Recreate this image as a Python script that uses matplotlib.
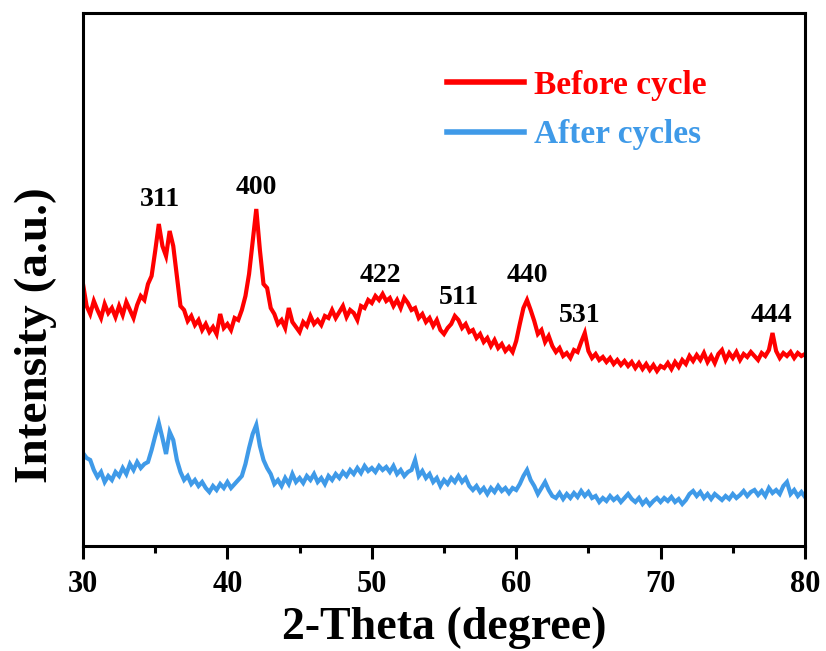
import numpy as np
import matplotlib
matplotlib.use("Agg")
import matplotlib.pyplot as plt
from matplotlib.lines import Line2D
from matplotlib.ticker import MultipleLocator

plt.rcParams['font.family'] = ['Liberation Serif', 'DejaVu Serif']
plt.rcParams['font.weight'] = 'bold'

# 2-theta grid, 0.25 degree steps from 30 to 80
two_theta = np.arange(30.0, 80.001, 0.25)

# intensities (arbitrary units)
before_cycle = [
    262, 240, 232, 245, 236, 228, 242, 233, 238, 229,
    240, 231, 244, 236, 228, 241, 250, 246, 262, 270,
    295, 322, 300, 290, 315, 300, 270, 240, 236, 225,
    230, 221, 226, 216, 222, 214, 219, 212, 232, 218,
    222, 216, 228, 226, 236, 250, 272, 305, 337, 296,
    262, 258, 238, 232, 222, 226, 218, 238, 224, 219,
    214, 224, 220, 230, 222, 226, 221, 230, 228, 236,
    228, 234, 240, 229, 236, 233, 226, 240, 238, 246,
    243, 250, 246, 252, 245, 248, 240, 246, 238, 248,
    243, 236, 238, 228, 232, 224, 228, 220, 226, 216,
    212, 218, 222, 230, 226, 218, 222, 214, 216, 208,
    212, 204, 208, 200, 206, 198, 202, 195, 199, 194,
    205, 222, 238, 246, 236, 225, 212, 216, 204, 210,
    200, 194, 198, 190, 193, 188, 196, 194, 204, 213,
    195, 188, 192, 186, 189, 184, 188, 182, 186, 181,
    185, 180, 184, 178, 183, 177, 182, 176, 181, 175,
    180, 178, 183, 177, 184, 179, 186, 182, 190, 185,
    191, 186, 193, 184, 190, 183, 192, 196, 186, 193,
    188, 194, 186, 192, 189, 194, 190, 186, 193, 190,
    196, 213, 195, 188, 193, 190, 194, 188, 193, 190,
    192,
]
after_cycles = [
    93, 88, 86, 76, 69, 74, 64, 70, 66, 74,
    70, 78, 72, 82, 76, 84, 78, 82, 84, 96,
    110, 123, 108, 92, 114, 106, 86, 74, 66, 70,
    62, 66, 60, 64, 58, 54, 60, 56, 62, 58,
    64, 58, 62, 66, 70, 82, 98, 112, 121, 100,
    86, 78, 72, 62, 66, 60, 68, 62, 72, 64,
    68, 63, 70, 66, 72, 64, 68, 62, 70, 66,
    72, 68, 74, 70, 76, 72, 78, 73, 80, 75,
    78, 74, 80, 76, 79, 74, 80, 72, 76, 70,
    74, 76, 86, 70, 75, 68, 72, 64, 68, 60,
    66, 62, 68, 64, 70, 64, 68, 60, 56, 60,
    54, 58, 52, 58, 54, 60, 55, 58, 53, 58,
    56, 62, 70, 76, 66, 60, 52, 58, 64, 56,
    50, 48, 53, 47, 52, 48, 53, 49, 55, 50,
    54, 48, 50, 44, 48, 45, 50, 46, 49, 44,
    48, 52, 47, 44, 48, 42, 46, 41, 45, 48,
    44, 48, 45, 49, 44, 47, 42, 46, 52, 55,
    50, 54, 48, 52, 47, 52, 49, 46, 50, 47,
    52, 48, 51, 55, 50, 54, 56, 51, 55, 50,
    58, 53, 56, 52, 60, 64, 52, 56, 50, 54,
    49,
]

peak_labels = ['311', '400', '422', '511', '440', '531', '444']
peak_x = [35.3, 42.0, 50.6, 56.05, 60.8, 64.4, 77.65]
peak_y = [346, 358, 270, 249, 270, 230, 231]

red = '#FF0000'
blue = '#3F9AE8'

fig = plt.figure(figsize=(8.26, 6.51), dpi=100)
ax = fig.add_axes([83 / 826, 105 / 651, 722 / 826, 533 / 651])

ax.plot(two_theta, before_cycle, color=red, lw=3.0, solid_joinstyle='miter')
ax.plot(two_theta, after_cycles, color=blue, lw=3.0, solid_joinstyle='miter')

for lab, px, py in zip(peak_labels, peak_x, peak_y):
    ax.text(px, py, lab, ha='center', va='center', fontsize=20, fontweight='bold')

ax.set_xlim(30, 80)
ax.set_ylim(0, 533)
ax.xaxis.set_major_locator(MultipleLocator(10))
ax.xaxis.set_minor_locator(MultipleLocator(5))
ax.set_yticks([])
ax.tick_params(axis='x', which='major', direction='out', length=9, width=2.2,
               labelsize=22, pad=8)
ax.tick_params(axis='x', which='minor', direction='out', length=5, width=2.2)
for s in ax.spines.values():
    s.set_linewidth(2.2)

ax.set_xlabel('2-Theta (degree)', fontsize=33, fontweight='bold', labelpad=6)
ax.set_ylabel('Intensity (a.u.)', fontsize=34, fontweight='bold', va='center')
ax.yaxis.set_label_coords(-0.066, 0.396)

handles = [Line2D([], [], color=red, lw=4), Line2D([], [], color=blue, lw=4)]
leg = ax.legend(handles, ['Before cycle', 'After cycles'], loc='upper left',
                bbox_to_anchor=(447 / 826, 1 - 70 / 651), bbox_transform=fig.transFigure,
                frameon=False, borderpad=0, borderaxespad=0, handlelength=2.3,
                handletextpad=0.3, labelspacing=0.55,
                prop={'size': 24, 'weight': 'bold'})
for txt, c in zip(leg.get_texts(), [red, blue]):
    txt.set_color(c)

fig.savefig('out.png', dpi=100)
